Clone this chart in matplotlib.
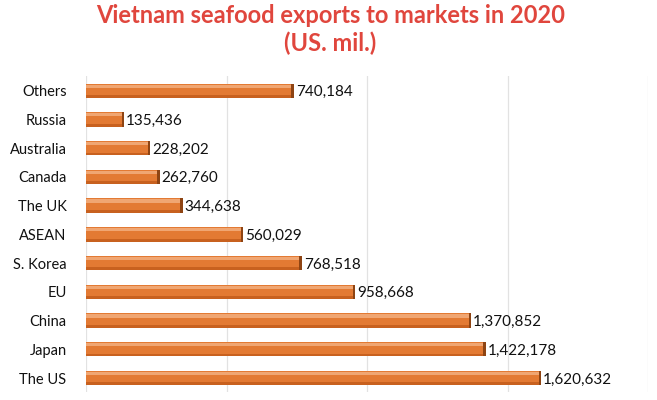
import matplotlib
matplotlib.use("Agg")
import matplotlib.pyplot as plt
import numpy as np

categories = ["Others", "Russia", "Australia", "Canada", "The UK", "ASEAN",
              "S. Korea", "EU", "China", "Japan", "The US"]
values = [740184, 135436, 228202, 262760, 344638, 560029,
          768518, 958668, 1370852, 1422178, 1620632]
grid_ticks = [0, 500000, 1000000, 1500000, 2000000]

plt.rcParams['font.family'] = ['Lato', 'DejaVu Sans']

fig = plt.figure(figsize=(6.57, 4.0), dpi=100)
ax = fig.add_axes([86/657, 0.019, 562/657, 0.79])

y = np.arange(len(categories))
bar_h = 0.5
ax.barh(y, values, height=bar_h, color="#E37A33", edgecolor="none", zorder=3)
# top highlight
ax.barh(y - bar_h * 0.32, values, height=bar_h * 0.22, color="#F0A672",
        edgecolor="none", zorder=4)
# bottom shade
ax.barh(y + bar_h * 0.40, values, height=bar_h * 0.2, color="#C8611F",
        edgecolor="none", zorder=4)
# end cap
cap = 9000
ax.barh(y, [cap] * len(values), left=np.array(values) - cap, height=bar_h,
        color="#8E4413", edgecolor="none", zorder=5)

for yi, v in zip(y, values):
    ax.text(v + 6000, yi + 0.05, f"{v:,}", va="center", ha="left",
            fontsize=11, color="#111111", zorder=6)

ax.set_xlim(0, 2000000)
ax.set_ylim(len(categories) - 0.5, -0.5)
ax.set_yticks(y)
ax.set_yticklabels(categories, fontsize=10.5, color="#111111")
ax.tick_params(axis="y", length=0, pad=14)
ax.set_xticks(grid_ticks)
ax.tick_params(axis="x", length=0, labelbottom=False)
ax.grid(axis="x", color="#E2E2E2", linewidth=0.9, zorder=0)
for s in ax.spines.values():
    s.set_visible(False)

fig.text(0.503, 0.962, "Vietnam seafood exports to markets in 2020",
         ha="center", va="center", fontsize=17, fontweight="bold", color="#E0463D")
fig.text(0.503, 0.892, "(US. mil.)",
         ha="center", va="center", fontsize=17, fontweight="bold", color="#E0463D")

fig.savefig("out.png", dpi=100)
